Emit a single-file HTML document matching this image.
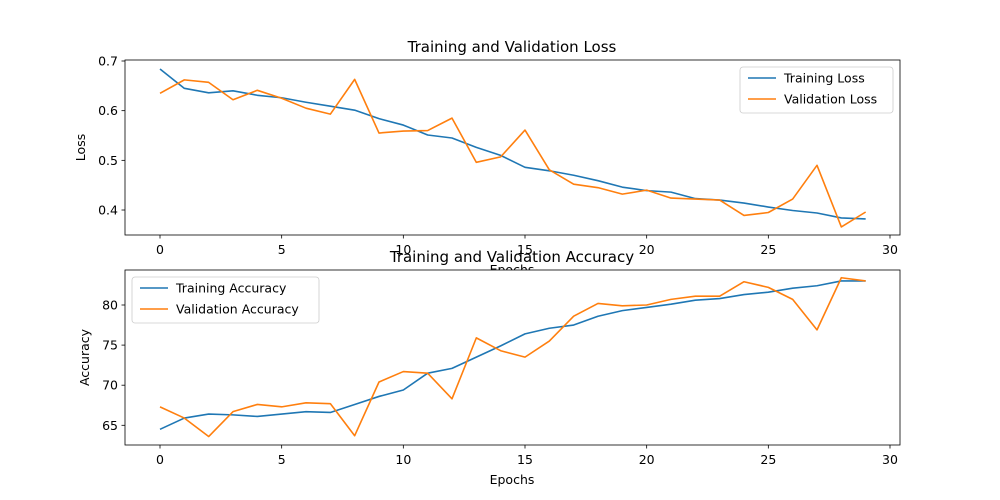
<!DOCTYPE html>
<html><head><meta charset="utf-8"><style>
body{margin:0;background:#fff;}
svg{display:block;font-family:"DejaVu Sans","Liberation Sans",sans-serif;}
</style></head><body>
<svg id="c" width="1000" height="500" viewBox="0 0 1000 500"></svg>
<script>
const epochs = Array.from({length:30},(_,i)=>i);
const trainLoss = [0.684,0.645,0.636,0.640,0.631,0.626,0.617,0.609,0.601,0.584,0.571,0.551,0.545,0.526,0.510,0.486,0.479,0.470,0.459,0.446,0.439,0.436,0.423,0.420,0.414,0.406,0.399,0.394,0.384,0.382];
const valLoss = [0.635,0.662,0.657,0.622,0.641,0.625,0.605,0.593,0.663,0.555,0.559,0.560,0.585,0.496,0.507,0.561,0.481,0.452,0.445,0.432,0.440,0.424,0.422,0.420,0.389,0.395,0.422,0.490,0.366,0.396];
const trainAcc = [64.5,65.9,66.4,66.3,66.1,66.4,66.7,66.6,67.6,68.6,69.4,71.5,72.1,73.5,74.9,76.4,77.1,77.5,78.6,79.3,79.7,80.1,80.6,80.8,81.3,81.6,82.1,82.4,83.0,83.0];
const valAcc = [67.3,65.9,63.6,66.7,67.6,67.3,67.8,67.7,63.7,70.4,71.7,71.5,68.3,75.9,74.3,73.5,75.5,78.6,80.2,79.9,80.0,80.7,81.1,81.1,82.9,82.2,80.7,76.9,83.4,83.0];
const xTicks = [0,5,10,15,20,25,30];
const lossTicks = [0.4,0.5,0.6,0.7];
const lossTickLabels = ["0.4","0.5","0.6","0.7"];
const accTicks = [65,70,75,80];
const accTickLabels = ["65","70","75","80"];

const NS="http://www.w3.org/2000/svg";
const svg=document.getElementById('c');
function mk(t,a,parent){const e=document.createElementNS(NS,t);for(const k in a)e.setAttribute(k,a[k]);(parent||svg).appendChild(e);return e;}
const x=v=>160+(v)*(730/30);

function panel(cfg){
  const g=mk('g',{});
  
  
  const y=v=>cfg.y0px+(v-cfg.v0)*cfg.k;
  mk('rect',{x:125,y:cfg.top,width:775,height:175,fill:'#fff',stroke:'none'},g);
  xTicks.forEach(t=>{
    const l=mk('line',{x1:x(t),x2:x(t),y1:cfg.top+175,y2:cfg.top+178.5,stroke:'#000','stroke-width':0.8},g);
    
    
    const tx=mk('text',{x:x(t),y:cfg.top+194,'font-size':12.5,'text-anchor':'middle',fill:'#000'},g);
    tx.textContent=t;
    
    
  });
  cfg.ticks.forEach((t,i)=>{
    mk('line',{x1:121.5,x2:125,y1:y(t),y2:y(t),stroke:'#000','stroke-width':0.8},g);
    const tx=mk('text',{x:118,y:y(t)+4.5,'font-size':12.5,'text-anchor':'end',fill:'#000'},g);
    tx.textContent=cfg.labels[i];
    
    
  });
  const series=[[cfg.a,'#1f77b4',cfg.an],[cfg.b,'#ff7f0e',cfg.bn]];
  series.forEach(s=>{
    const p=mk('polyline',{points:s[0].map((v,i)=>x(epochs[i])+','+y(v)).join(' '),fill:'none',stroke:s[1],'stroke-width':1.6,'stroke-linejoin':'round'},g);
    
    
  });
  mk('rect',{x:125,y:cfg.top,width:775,height:175,fill:'none',stroke:'#000','stroke-width':0.8},g);
  const ti=mk('text',{x:512,y:cfg.top-8,'font-size':15,'text-anchor':'middle',fill:'#000'},g);
  ti.textContent=cfg.title;
  
  
  const xl=mk('text',{x:512,y:cfg.top+214,'font-size':12.5,'text-anchor':'middle',fill:'#000'},g);
  xl.textContent='Epochs';
  
  
  const yl=mk('text',{x:0,y:0,'font-size':12.5,'text-anchor':'middle',fill:'#000',transform:`translate(${cfg.ylx},${cfg.top+87.5}) rotate(-90)`},g);
  yl.textContent=cfg.ylabel;
  
  
  const L=mk('g',{},g);
  
  
  mk('rect',{x:cfg.lx,y:cfg.top+7,width:cfg.lw,height:46,rx:3,fill:'#fff',stroke:'#ccc','stroke-width':0.8},L);
  series.forEach((s,i)=>{
    const yy=cfg.top+18+i*21;
    mk('line',{x1:cfg.lx+8,x2:cfg.lx+36,y1:yy,y2:yy,stroke:s[1],'stroke-width':1.6},L);
    const t=mk('text',{x:cfg.lx+44,y:yy+4.5,'font-size':12.5,fill:'#000'},L);
    t.textContent=i?cfg.ln[1]:cfg.ln[0];
    
    
  });
}
panel({name:'loss-chart',top:60,v0:0.7,y0px:61,k:-496.7,ticks:lossTicks,labels:lossTickLabels,a:trainLoss,b:valLoss,an:'training-loss-line',bn:'validation-loss-line',title:'Training and Validation Loss',ylabel:'Loss',ylx:85,lx:740,lw:153,ln:['Training Loss','Validation Loss']});
panel({name:'accuracy-chart',top:270,v0:80,y0px:305,k:-8.02,ticks:accTicks,labels:accTickLabels,a:trainAcc,b:valAcc,an:'training-accuracy-line',bn:'validation-accuracy-line',title:'Training and Validation Accuracy',ylabel:'Accuracy',ylx:89,lx:132,lw:187,ln:['Training Accuracy','Validation Accuracy']});
</script>
</body></html>
